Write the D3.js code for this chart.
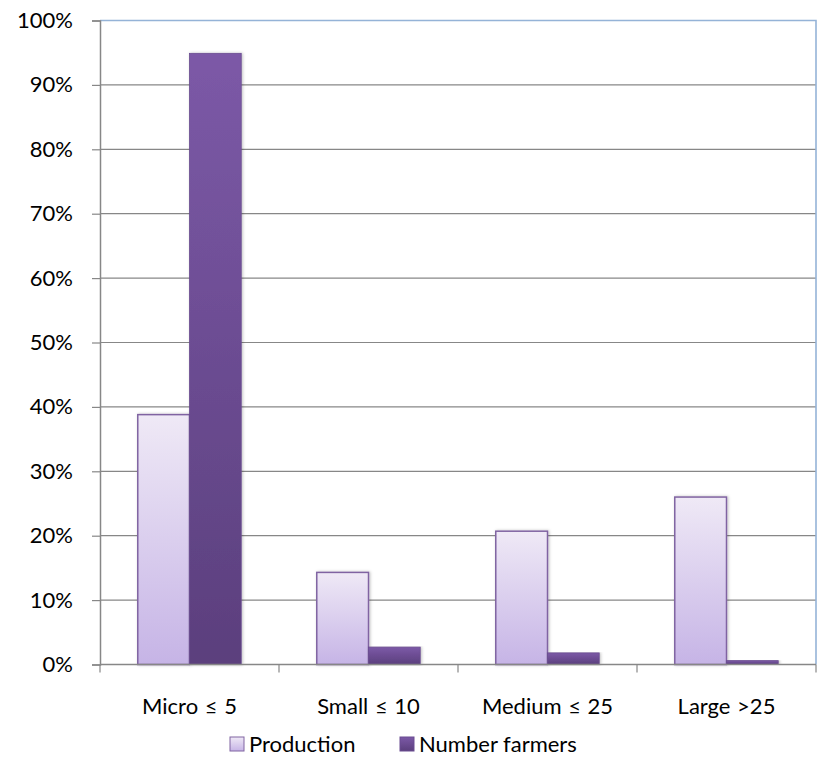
<!DOCTYPE html>
<html>
<head>
<meta charset="utf-8">
<script src="https://cdn.jsdelivr.net/npm/d3@7"></script>
<style>
  html, body { margin: 0; padding: 0; background: #fff; }
  svg text { font-family: Lato, "Open Sans", sans-serif; fill: #000; }
</style>
</head>
<body>
<svg id="chart" width="821" height="766"></svg>
<script>
// Farm size classes and their share of production / number of farmers
const categories = ["Micro \u2264 5", "Small \u2264 10", "Medium \u2264 25", "Large >25"];
const seriesNames = ["Production", "Number farmers"];
const production = [38.8, 14.3, 20.7, 26.0];
const farmers = [94.9, 2.7, 1.8, 0.6];
const yTicks = [0, 10, 20, 30, 40, 50, 60, 70, 80, 90, 100];

const FONT = "Lato, 'Open Sans', sans-serif";
const FS = 22;

const svg = d3.select("#chart");
const margin = { left: 100, top: 20.5, right: 816, bottom: 664.5 };

const x = d3.scaleBand().domain(categories).range([margin.left, margin.right]).paddingInner(0).paddingOuter(0);
const x1 = d3.scaleBand().domain(seriesNames).range([0, x.bandwidth() * 0.578]);
const groupOffset = (x.bandwidth() - x1.range()[1]) / 2;
const y = d3.scaleLinear().domain([0, 100]).range([margin.bottom, margin.top]);

const defs = svg.append("defs");
const g1 = defs.append("linearGradient").attr("id", "gradProd").attr("x1", 0).attr("y1", 0).attr("x2", 0).attr("y2", 1);
g1.append("stop").attr("offset", "0%").attr("stop-color", "#efe9f6");
g1.append("stop").attr("offset", "100%").attr("stop-color", "#c6b4e6");
const g2 = defs.append("linearGradient").attr("id", "gradFarm").attr("x1", 0).attr("y1", 0).attr("x2", 0).attr("y2", 1);
g2.append("stop").attr("offset", "0%").attr("stop-color", "#7c59a7");
g2.append("stop").attr("offset", "100%").attr("stop-color", "#5b3f7d");
const shadow = defs.append("filter").attr("id", "shadow").attr("x", "-20%").attr("y", "-5%").attr("width", "140%").attr("height", "110%");
shadow.append("feDropShadow").attr("dx", 1).attr("dy", 0).attr("stdDeviation", 1.5).attr("flood-color", "#000").attr("flood-opacity", 0.25);

// Horizontal gridlines
svg.append("g").selectAll("line").data(yTicks.filter(d => d > 0 && d < 100)).join("line")
  .attr("x1", margin.left).attr("x2", margin.right)
  .attr("y1", d => y(d)).attr("y2", d => y(d))
  .attr("stroke", "#878787").attr("stroke-width", 1.2);

// Plot area border (top and right)
svg.append("path")
  .attr("d", `M${margin.left},${y(100)}H${margin.right}V${margin.bottom}`)
  .attr("fill", "none").attr("stroke", "#95b3d7").attr("stroke-width", 1.6);

// Y axis
const yAxis = d3.axisLeft(y).tickValues(yTicks).tickFormat(d => d + "%").tickSize(8).tickPadding(19);
const gy = svg.append("g").attr("transform", `translate(${margin.left},0)`).call(yAxis)
  .attr("font-size", FS).attr("font-family", FONT);
gy.select(".domain").attr("stroke", "#878787").attr("stroke-width", 1.5);
gy.selectAll(".tick line").attr("stroke", "#878787").attr("stroke-width", 1.2);
gy.selectAll(".tick text").attr("fill", "#000");

// Bars
const groups = svg.append("g").selectAll("g").data(categories).join("g")
  .attr("transform", d => `translate(${x(d) + groupOffset},0)`);
const rows = categories.map((c, i) => [
  { key: "Production", value: production[i] },
  { key: "Number farmers", value: farmers[i] }
]);
groups.each(function (c, i) {
  d3.select(this).selectAll("rect").data(rows[i]).join("rect")
    .attr("x", d => x1(d.key))
    .attr("y", d => y(d.value))
    .attr("width", x1.bandwidth())
    .attr("height", d => y(0) - y(d.value))
    .attr("fill", d => d.key === "Production" ? "url(#gradProd)" : "url(#gradFarm)")
    .attr("stroke", d => d.key === "Production" ? "#8064a2" : "#6a4c91")
    .attr("stroke-width", d => d.key === "Production" ? 1.5 : 0.8)
    .attr("filter", "url(#shadow)");
});

// X axis
const gx = svg.append("g").attr("transform", `translate(0,${margin.bottom})`);
gx.append("line").attr("x1", margin.left).attr("x2", margin.right).attr("stroke", "#878787").attr("stroke-width", 1.5);
const boundaries = categories.map(c => x(c)).concat([margin.right]);
gx.selectAll("line.tick").data(boundaries).join("line").attr("class", "tick")
  .attr("x1", d => d).attr("x2", d => d).attr("y1", 0).attr("y2", 8)
  .attr("stroke", "#878787").attr("stroke-width", 1.2);
gx.selectAll("text").data(categories).join("text")
  .attr("x", d => x(d) + x.bandwidth() / 2).attr("y", 49)
  .attr("text-anchor", "middle").attr("font-size", FS)
  .attr("word-spacing", 1).text(d => d);

// Legend
const legend = svg.append("g").attr("transform", "translate(230,744)");
const legendItems = [
  { name: seriesNames[0], fill: "url(#gradProd)", stroke: "#8064a2", dx: 0 },
  { name: seriesNames[1], fill: "url(#gradFarm)", stroke: "#6a4c91", dx: 170 }
];
const li = legend.selectAll("g").data(legendItems).join("g").attr("transform", d => `translate(${d.dx},0)`);
li.append("rect").attr("x", 0).attr("y", -7).attr("width", 14).attr("height", 14)
  .attr("fill", d => d.fill).attr("stroke", d => d.stroke).attr("stroke-width", 1);
li.append("text").attr("x", 19).attr("y", 0).attr("dy", "0.36em").attr("font-size", FS).text(d => d.name);
</script>
</body>
</html>
